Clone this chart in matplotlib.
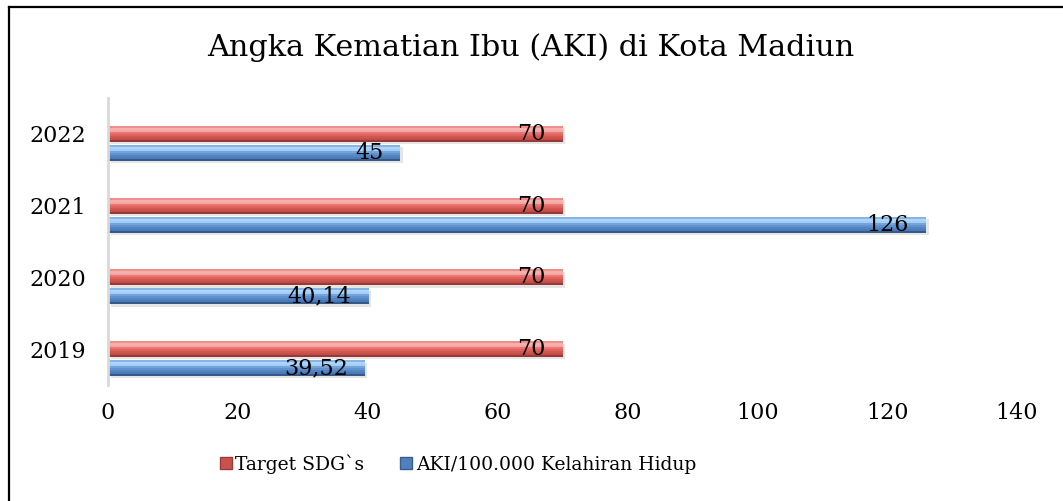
import matplotlib
matplotlib.use("Agg")
import matplotlib.pyplot as plt
from matplotlib.patches import Patch
from matplotlib.lines import Line2D
import numpy as np

years = ["2019", "2020", "2021", "2022"]
target_sdg = [70, 70, 70, 70]
aki = [39.52, 40.14, 126, 45]
aki_labels = ["39,52", "40,14", "126", "45"]
target_labels = ["70", "70", "70", "70"]
xticks = [0, 20, 40, 60, 80, 100, 120, 140]

title = "Angka Kematian Ibu (AKI) di Kota Madiun"
legend_names = ["Target SDG`s", "AKI/100.000 Kelahiran Hidup"]

plt.rcParams['font.family'] = ['DejaVu Serif']

W, H = 1063, 501
fig = plt.figure(figsize=(W / 100, H / 100), dpi=100)
ax = fig.add_axes([108 / W, 1 - 385 / H, (1017 - 108) / W, (385 - 98) / H])

y = np.arange(len(years))
bh = 0.22
blue_off = -0.265

# vertical color profiles (top -> bottom) to mimic bevel
red_profile = ["#EC8E8A", "#F6B0AD", "#F4A7A4", "#E87571", "#DE625E", "#D2554F", "#C44D49", "#953A37"]
blue_profile = ["#86B4E4", "#AED5F9", "#A5CEF4", "#72A3DB", "#6192CE", "#5485C3", "#4B7BB6", "#36598B"]


def draw_bar(vals, center, profile):
    n = len(profile)
    # shadow
    ax.barh(y + center - bh * 0.15, vals, height=bh, left=0.4, color="#000000",
            alpha=0.10, linewidth=0, zorder=1)
    for k, c in enumerate(profile):
        top = center + bh / 2 - k * bh / n
        ax.barh(y + top - bh / (2 * n), vals, height=bh / n, color=c,
                linewidth=0, zorder=2)


draw_bar(target_sdg, 0.0, red_profile)
draw_bar(aki, blue_off, blue_profile)

for i in range(len(years)):
    ax.annotate(target_labels[i], (target_sdg[i], y[i]), xytext=(-17, 0),
                textcoords="offset pixels", ha="right", va="center",
                fontsize=16, color="black", zorder=5)
    ax.annotate(aki_labels[i], (aki[i], y[i] + blue_off), xytext=(-17, 0),
                textcoords="offset pixels", ha="right", va="center",
                fontsize=16, color="black", zorder=5)

ax.set_xlim(0, 140)
ax.set_ylim(-0.5, 3.5)
ax.set_xticks(xticks)
ax.set_xticklabels([str(t) for t in xticks])
ax.set_yticks(y)
ax.set_yticklabels(years)
ax.tick_params(axis="both", length=0, labelsize=16)
ax.tick_params(axis="x", pad=12)
ax.tick_params(axis="y", pad=16)
for s in ["top", "right", "bottom"]:
    ax.spines[s].set_visible(False)
ax.spines["left"].set_color("#D9D9D9")
ax.spines["left"].set_linewidth(2)

fig.text(531 / W, 1 - 48 / H, title, ha="center", va="center", fontsize=21.8)

handles = [Patch(facecolor="#C9524E", edgecolor="#9B3B38"),
           Patch(facecolor="#4F81BD", edgecolor="#385D8A")]
fig.legend(handles, legend_names, loc="center", bbox_to_anchor=(458 / W, 1 - 464 / H),
           ncol=2, frameon=False, fontsize=13.5, handlelength=0.65, handleheight=0.65,
           handletextpad=0.2, columnspacing=1.9)

# partial border (top and left edges visible)
fig.add_artist(Line2D([9 / W, 9 / W], [0, 1 - 7 / H], color="black", linewidth=1.6,
                      transform=fig.transFigure))
fig.add_artist(Line2D([9 / W, 1], [1 - 7 / H, 1 - 7 / H], color="black", linewidth=1.6,
                      transform=fig.transFigure))

fig.savefig("out.png", dpi=100)
